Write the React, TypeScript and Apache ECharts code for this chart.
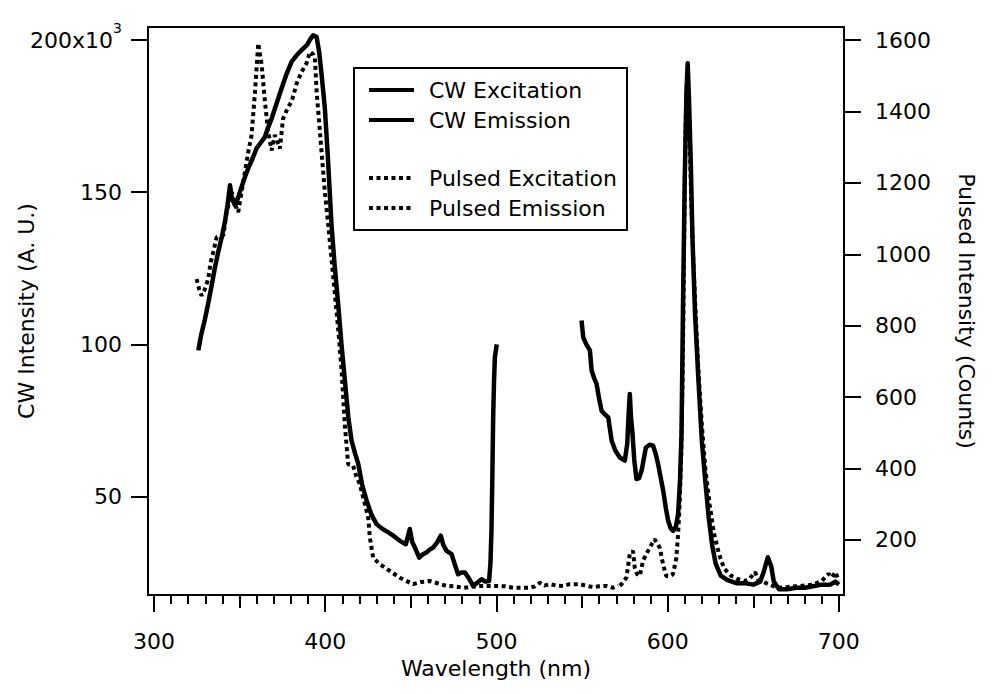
import React, { useEffect, useRef } from "react";
import * as echarts from "echarts";

// [wavelength nm, intensity ×10^3 A.U.]
const cwExcitation: [number, number][] = [
  [325.9, 98], [327.5, 103], [329.8, 108.4], [331.5, 113], [333.7, 119.4], [335.5, 125],
  [337.5, 130.3], [339.5, 135], [341.4, 140.2], [343.0, 146], [344.4, 152.3], [345.5, 148],
  [347.3, 145.7], [349.0, 148], [350.2, 150.1], [352.5, 154], [355.0, 157.8], [357.5, 161],
  [359.9, 164.4], [362.0, 166], [364.8, 168.2], [366.5, 171], [368.7, 174.2], [371.5, 179],
  [374.5, 184.1], [377.5, 189], [380.4, 192.9], [383.3, 195], [386.2, 196.7], [389.5, 198.5],
  [391.5, 200.5], [393.0, 201.6], [395.0, 201], [396.5, 196], [398.0, 188], [399.8, 177.5],
  [401.5, 162], [403.7, 139.1], [405.5, 126], [407.6, 113], [409.5, 100], [411.5, 88],
  [413.5, 76], [415.4, 68.3], [417.5, 64], [419.3, 60.7], [421.5, 54], [424.2, 48.6],
  [427.0, 44], [430.0, 40.9], [433.0, 39.5], [436.8, 38.2], [440.0, 37], [443.6, 35.4],
  [447.1, 34.3], [449.4, 39.3], [450.8, 35], [452.4, 33.2], [454.9, 29.9], [457.0, 31],
  [459.2, 31.6], [461.0, 32.5], [463.0, 33.2], [465.5, 35], [467.5, 37.1], [469.0, 34],
  [470.9, 32.1], [473.8, 31.0], [475.5, 28], [477.6, 24.4], [479.5, 25], [481.6, 25.0],
  [484.0, 23], [486.4, 20.6], [488.5, 21.5], [491.3, 22.8], [493.5, 22], [495.7, 22.2],
  [496.5, 28], [497.1, 38.7], [497.6, 56], [498.1, 76], [498.6, 88], [499.1, 95.8], [500.2, 100],
];

const cwEmission: [number, number][] = [
  [549.7, 107.8], [550.7, 102.3], [552.5, 100], [554.6, 98.0], [555.6, 91.4], [557.0, 89],
  [558.5, 87.0], [560.0, 82], [561.4, 78.2], [563.3, 77], [565.3, 76.0], [567.3, 68.3],
  [569.5, 65], [572.1, 62.8], [575.0, 61.8], [576.4, 67.3], [577.3, 78], [577.9, 83.7],
  [578.6, 76], [579.5, 70.5], [580.5, 62], [581.8, 55.7], [583.3, 56], [584.8, 58.5],
  [587.3, 66.1], [589.5, 67], [591.5, 66.7], [593.0, 64], [594.4, 60.7], [596.0, 56],
  [597.4, 51.9], [599.0, 46], [600.3, 42.0], [601.8, 39.5], [603.2, 38.7], [604.8, 40],
  [606.1, 44.2], [607.2, 55], [608.1, 70.5], [609.0, 114.4], [610.0, 155], [611.0, 183],
  [611.7, 192.4], [612.5, 180], [613.5, 160], [614.5, 135], [616.0, 110], [618.0, 88],
  [620.0, 68], [622.0, 55], [624.0, 43], [626.0, 34], [628.0, 28], [631.0, 24],
  [635.0, 22.5], [640.0, 21.5], [645.0, 21.5], [650.0, 21], [654.0, 22], [656.0, 25],
  [658.5, 30], [660.5, 27], [662.0, 22], [665.0, 19.5], [670.0, 19.5], [675.0, 20],
  [680.0, 20], [685.0, 20.5], [690.0, 21], [695.0, 21], [698.0, 22], [700.0, 21],
];

// [wavelength nm, counts]
const pulsedExcitation: [number, number][] = [
  [324.9, 931], [326.5, 900], [327.8, 884], [329.5, 900], [331.7, 931], [333.0, 975],
  [334.6, 1006], [336.6, 1048], [338.5, 1050], [340.5, 1053], [342.4, 1118], [345.4, 1174],
  [347.3, 1140], [349.2, 1118], [351.0, 1170], [353.1, 1230], [355.0, 1285], [357.0, 1334],
  [359.0, 1455], [360.9, 1591], [362.9, 1530], [364.8, 1427], [366.7, 1343], [368.7, 1291],
  [370.6, 1334], [373.5, 1296], [375.4, 1380], [378.4, 1413], [380.4, 1427], [383.3, 1478],
  [386.2, 1511], [389.1, 1535], [391.1, 1567], [393.0, 1560], [394.0, 1549], [395.0, 1455],
  [396.9, 1343], [399.8, 1174], [401.8, 1080], [403.7, 987], [405.6, 890], [407.6, 790],
  [409.5, 680], [411.5, 520], [413.4, 412], [416.3, 408], [418.0, 380], [420.2, 356],
  [423.2, 300], [425.1, 262], [426.1, 206], [428.0, 150], [431.9, 132], [437.8, 113],
  [443.6, 94], [451.3, 76], [456.0, 82], [461.1, 85], [466.0, 78], [470.9, 71],
  [475.0, 70], [480.6, 66], [490.3, 71], [500.1, 71], [505.0, 70], [509.8, 66],
  [515.0, 66], [519.5, 66], [522.5, 70], [525.3, 80], [528.0, 72], [531.2, 76],
  [535.0, 72], [538.9, 71], [542.8, 76], [548.7, 76], [552.0, 72], [556.5, 68],
  [560.0, 70], [564.3, 71], [568.1, 66], [571.0, 72],
];

const pulsedEmission: [number, number][] = [
  [572.0, 72], [573.0, 76], [575.9, 94], [577.9, 160], [579.8, 169], [580.8, 122],
  [582.0, 105], [583.7, 99], [585.6, 141], [587.5, 160], [589.5, 178], [592.4, 202],
  [595.4, 178], [597.3, 132], [599.2, 99], [601.0, 98], [603.1, 104], [605.1, 150],
  [606.1, 216], [607.0, 300], [608.0, 450], [609.0, 750], [610.0, 1200], [610.6, 1380],
  [611.3, 1490], [612.0, 1450], [612.8, 1330], [613.8, 1150], [615.0, 980], [616.5, 820],
  [618.0, 670], [620.0, 520], [622.0, 400], [624.5, 300], [627.0, 220], [630.0, 160],
  [633.0, 120], [637.0, 100], [641.0, 90], [645.0, 85], [648.0, 92], [651.0, 110],
  [653.0, 88], [657.0, 80], [661.0, 72], [665.0, 66], [670.0, 68], [675.0, 70],
  [680.0, 72], [685.0, 75], [690.0, 85], [694.0, 105], [696.0, 95], [698.0, 110], [700.0, 85],
];

const xLabelTicks = [300, 400, 500, 600, 700];
const xMidTicks = [350, 450, 550, 650];
const xMinorTicks = [
  310, 320, 330, 340, 360, 370, 380, 390, 410, 420, 430, 440, 460, 470, 480, 490,
  510, 520, 530, 540, 560, 570, 580, 590, 610, 620, 630, 640, 660, 670, 680, 690,
];
const leftTicks = [50, 100, 150, 200];
const rightTicks = [200, 400, 600, 800, 1000, 1200, 1400, 1600];

const FONT = "DejaVu Sans";
const BLACK = "#000";

export default function App() {
  const ref = useRef<HTMLDivElement>(null);
  useEffect(() => {
    document.body.style.margin = "0";
    const chart = echarts.init(ref.current as HTMLDivElement, null, { renderer: "svg" });
    const txt = { fontFamily: FONT, fontSize: 22, color: BLACK };
    const xBase = {
      type: "value",
      min: 296.5,
      max: 703,
      position: "bottom",
      splitLine: { show: false },
      nameMoveOverlap: false,
    };
    const tickLine = { color: BLACK, width: 2 };
    const solid = { color: BLACK, width: 4.5, type: "solid", join: "round" };
    const dotted = { color: BLACK, width: 4, type: [4, 3.5], cap: "butt" };
    const legendBase = {
      orient: "vertical",
      left: 367,
      padding: 0,
      itemGap: 8,
      itemWidth: 45,
      itemHeight: 14,
      itemStyle: { opacity: 0 },
      lineStyle: { width: 4 },
      textStyle: { ...txt, lineHeight: 22, padding: [0, 0, 0, 10] },
      selectedMode: false,
    };
    chart.setOption({
      animation: false,
      backgroundColor: "#fff",
      color: [BLACK, BLACK, BLACK, BLACK],
      grid: {
        left: 148,
        right: 149,
        top: 27,
        bottom: 99,
        show: true,
        borderColor: BLACK,
        borderWidth: 2,
        containLabel: false,
        outerBoundsMode: "none",
      },
      xAxis: [
        {
          ...xBase,
          name: "Wavelength (nm)",
          nameLocation: "middle",
          nameGap: 62,
          nameTextStyle: txt,
          axisLine: { show: true, onZero: false, lineStyle: tickLine },
          axisTick: { show: true, inside: false, length: 17, customValues: xLabelTicks, lineStyle: tickLine },
          axisLabel: { customValues: xLabelTicks, margin: 35, ...txt },
        },
        {
          ...xBase,
          axisLine: { show: false, onZero: false },
          axisLabel: { show: false },
          axisTick: { show: true, inside: false, length: 13, customValues: xMidTicks, lineStyle: tickLine },
        },
        {
          ...xBase,
          axisLine: { show: false, onZero: false },
          axisLabel: { show: false },
          axisTick: { show: true, inside: false, length: 9, customValues: xMinorTicks, lineStyle: tickLine },
        },
      ],
      yAxis: [
        {
          type: "value",
          position: "left",
          min: 17.6,
          max: 204.3,
          splitLine: { show: false },
          name: "CW Intensity (A. U.)",
          nameLocation: "middle",
          nameGap: 111,
          nameMoveOverlap: false,
          nameTextStyle: txt,
          axisLine: { show: true, onZero: false, lineStyle: tickLine },
          axisTick: { show: true, inside: false, length: 17, customValues: leftTicks, lineStyle: tickLine },
          axisLabel: {
            customValues: leftTicks,
            margin: 26,
            ...txt,
            formatter: (v: number) => (v === 200 ? "{b|200x10}{s|3}" : String(v)),
            rich: {
              b: { fontFamily: FONT, fontSize: 22, color: BLACK, lineHeight: 40, verticalAlign: "middle" },
              s: { fontFamily: FONT, fontSize: 14, color: BLACK, lineHeight: 14, verticalAlign: "top", padding: [1, 0, 0, 0] },
            },
          },
        },
        {
          type: "value",
          position: "right",
          min: 45.7,
          max: 1636.5,
          splitLine: { show: false },
          name: "Pulsed Intensity (Counts)",
          nameLocation: "middle",
          nameRotate: -90,
          nameGap: 111,
          nameMoveOverlap: false,
          nameTextStyle: txt,
          axisLine: { show: true, onZero: false, lineStyle: tickLine },
          axisTick: { show: true, inside: false, length: 17, customValues: rightTicks, lineStyle: tickLine },
          axisLabel: { customValues: rightTicks, margin: 31, ...txt, formatter: (v: number) => String(v) },
        },
      ],
      legend: [
        { ...legendBase, data: ["CW Excitation", "CW Emission"], top: 79 },
        { ...legendBase, data: ["Pulsed Excitation", "Pulsed Emission"], top: 167 },
      ],
      graphic: [
        {
          type: "rect",
          shape: { x: 354, y: 68, width: 273, height: 162 },
          style: { fill: "transparent", stroke: BLACK, lineWidth: 2 },
          silent: true,
        },
      ],
      series: [
        {
          name: "CW Excitation",
          type: "line",
          yAxisIndex: 0,
          data: cwExcitation,
          symbol: "none",
          itemStyle: { color: BLACK },
          lineStyle: solid,
        },
        {
          name: "CW Emission",
          type: "line",
          yAxisIndex: 0,
          data: cwEmission,
          symbol: "none",
          itemStyle: { color: BLACK },
          lineStyle: solid,
        },
        {
          name: "Pulsed Excitation",
          type: "line",
          yAxisIndex: 1,
          data: pulsedExcitation,
          symbol: "none",
          itemStyle: { color: BLACK },
          lineStyle: dotted,
        },
        {
          name: "Pulsed Emission",
          type: "line",
          yAxisIndex: 1,
          data: pulsedEmission,
          symbol: "none",
          itemStyle: { color: BLACK },
          lineStyle: dotted,
        },
      ],
    });
    return () => chart.dispose();
  }, []);
  return <div ref={ref} style={{ width: 993, height: 694 }} />;
}
